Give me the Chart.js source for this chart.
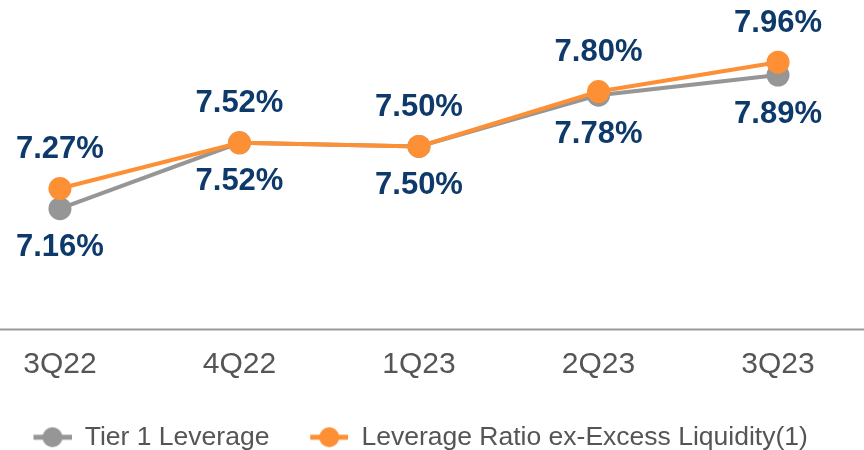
<!DOCTYPE html>
<html>
<head>
<meta charset="utf-8">
<script src="https://cdn.jsdelivr.net/npm/chart.js@4"></script>
<style>
  html, body { margin: 0; padding: 0; background: #fff; }
  #wrap { width: 864px; height: 450px; }
</style>
</head>
<body>
<div id="wrap"><canvas id="myChart"></canvas></div>
<script>
// data
const quarters = ["3Q22", "4Q22", "1Q23", "2Q23", "3Q23"];
const tier1 = [7.16, 7.52, 7.50, 7.78, 7.89];
const exLiquidity = [7.27, 7.52, 7.50, 7.80, 7.96];

const grey = "#969696";
const orange = "#fd8f35";
const navy = "#0d3a6a";
const font = "'Liberation Sans', Arial, sans-serif";

// legend marker: short line with a dot in the middle (small blank lead-in on the left)
function legendMarker(color) {
  const c = document.createElement("canvas");
  c.width = 47; c.height = 24;
  const ctx = c.getContext("2d");
  ctx.strokeStyle = color;
  ctx.lineWidth = 5;
  ctx.beginPath(); ctx.moveTo(9, 12); ctx.lineTo(47, 12); ctx.stroke();
  ctx.fillStyle = color;
  ctx.beginPath(); ctx.arc(28, 12, 10, 0, Math.PI * 2); ctx.fill();
  return c;
}

// axis line across the full width
const baseLine = {
  id: "baseLine",
  beforeDatasetsDraw(chart) {
    const y = chart.chartArea.bottom;
    const ctx = chart.ctx;
    ctx.save();
    ctx.strokeStyle = "#9a9a9a";
    ctx.lineWidth = 2;
    ctx.beginPath(); ctx.moveTo(0, y); ctx.lineTo(chart.width, y); ctx.stroke();
    ctx.restore();
  }
};

// value labels: grey below, orange above
const valueLabels = {
  id: "valueLabels",
  afterDatasetsDraw(chart) {
    const ctx = chart.ctx;
    ctx.save();
    ctx.font = "bold 31px " + font;
    ctx.fillStyle = navy;
    ctx.textAlign = "center";
    ctx.textBaseline = "middle";
    chart.data.datasets.forEach((ds, di) => {
      const meta = chart.getDatasetMeta(di);
      meta.data.forEach((pt, i) => {
        const dy = di === 0 ? 39 : -39;
        ctx.fillText(ds.data[i].y.toFixed(2) + "%", pt.x, pt.y + dy);
      });
    });
    ctx.restore();
  }
};

const toPoints = arr => arr.map((v, i) => ({ x: i, y: v }));

new Chart("myChart", {
  type: "line",
  data: {
    datasets: [
      {
        label: "Tier 1 Leverage",
        data: toPoints(tier1),
        order: 1,
        borderColor: grey,
        backgroundColor: grey,
        borderWidth: 4,
        pointRadius: 11.5,
        pointHoverRadius: 11.5,
        pointBorderWidth: 0,
        tension: 0
      },
      {
        label: "Leverage Ratio ex-Excess Liquidity(1)",
        data: toPoints(exLiquidity),
        order: 0,
        borderColor: orange,
        backgroundColor: orange,
        borderWidth: 4,
        pointRadius: 11.5,
        pointHoverRadius: 11.5,
        pointBorderWidth: 0,
        tension: 0
      }
    ]
  },
  options: {
    responsive: true,
    maintainAspectRatio: false,
    animation: false,
    layout: { padding: { top: 0, left: 0, right: 0, bottom: -10.5 }, autoPadding: false },
    scales: {
      x: {
        type: "linear",
        min: -0.334,
        max: 4.479,
        afterBuildTicks(scale) {
          scale.ticks = quarters.map((q, i) => ({ value: i }));
        },
        grid: { display: false, drawTicks: false },
        border: { display: false },
        ticks: {
          color: "#555555",
          padding: 17,
          maxRotation: 0,
          autoSkip: false,
          font: { family: font, size: 30 },
          callback: v => quarters[v]
        }
      },
      y: {
        display: false,
        min: 6.5,
        max: 8.3
      }
    },
    plugins: {
      tooltip: { enabled: false },
      legend: {
        position: "bottom",
        align: "start",
        labels: {
          color: "#555555",
          font: { family: font, size: 26.5 },
          usePointStyle: true,
          boxWidth: 47,
          pointStyleWidth: 47,
          padding: 24.5,
          generateLabels(chart) {
            return chart.data.datasets.map((ds, i) => ({
              text: i === 0 ? ds.label + " " : ds.label,
              fontColor: "#555555",
              pointStyle: legendMarker(ds.borderColor),
              datasetIndex: i,
              hidden: false,
              lineWidth: 0
            }));
          }
        }
      }
    }
  },
  plugins: [baseLine, valueLabels]
});
</script>
</body>
</html>
